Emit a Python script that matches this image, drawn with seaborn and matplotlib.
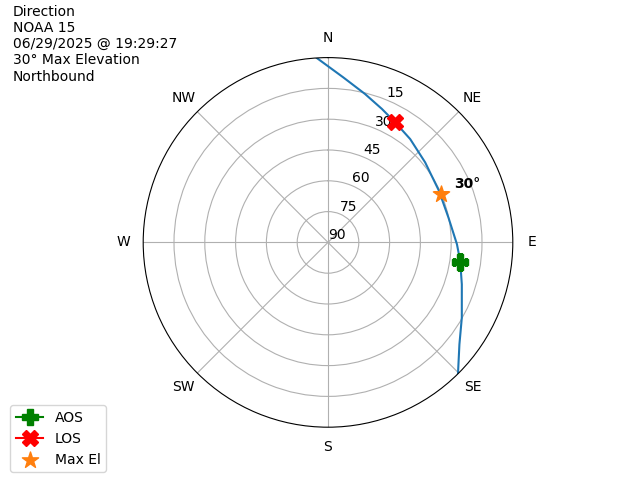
import numpy as np
import matplotlib
matplotlib.use("Agg")
import matplotlib.pyplot as plt
import seaborn as sns

# pass track, azimuth (deg clockwise from N) and elevation (deg)
track_az = [135.3, 127.8, 119.4, 107.4, 98.0, 90.8, 78.4, 65.0, 50.5, 38.5, 29.2, 22.0, 14.0, 5.3, -3.5]
track_el = [0.0, 9.0, 15.2, 21.7, 25.0, 27.2, 30.1, 30.4, 28.7, 25.7, 23.0, 19.9, 15.5, 9.3, 0.0]

aos_az, aos_el = 98.4, 25.0
los_az, los_el = 29.2, 23.0
max_az, max_el = 66.6, 30.2

compass = ["N", "NE", "E", "SE", "S", "SW", "W", "NW"]
el_ticks = [0, 15, 30, 45, 60, 75]
el_labels = ["90", "75", "60", "45", "30", "15"]

header = "Direction\nNOAA 15\n06/29/2025 @ 19:29:27\n30\u00b0 Max Elevation\nNorthbound"

fig = plt.figure(figsize=(6.4, 4.8), dpi=100)
ax = fig.add_subplot(111, projection="polar")
ax.set_theta_zero_location("N")
ax.set_theta_direction(-1)

theta = np.radians(track_az)
r = 90 - np.array(track_el)
sns.lineplot(x=theta, y=r, ax=ax, sort=False, estimator=None, color="C0")

ax.plot(np.radians(aos_az), 90 - aos_el, color="green", marker="P", markersize=12, label="AOS")
ax.plot(np.radians(los_az), 90 - los_el, color="red", marker="X", markersize=12, label="LOS")
ax.scatter(np.radians(max_az), 90 - max_el, color="C1", marker="*", s=150, zorder=3, label="Max El")
ax.annotate(f"{max_el:.0f}\u00b0", (np.radians(max_az), 90 - max_el),
            xytext=(10, 7), textcoords="offset points", ha="left", va="center",
            fontweight="bold")

ax.set_ylim(0, 90)
ax.set_yticks(el_ticks)
ax.set_yticklabels(el_labels)
ax.set_xticks(np.radians(np.arange(0, 360, 45)))
ax.set_xticklabels(compass)
ax.set_xlabel("")
ax.set_ylabel("")

fig.text(0.02, 0.99, header, ha="left", va="top")
fig.legend(loc="lower left", bbox_to_anchor=(0.005, 0.002))

fig.savefig("out.png", dpi=100)
